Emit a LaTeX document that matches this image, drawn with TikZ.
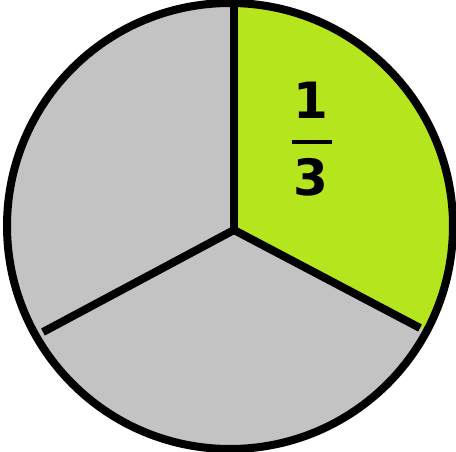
\documentclass[tikz,border=0pt]{standalone}
\usepackage{fontspec}
\newfontfamily\digitfont{DejaVu Sans}
\definecolor{pieGray}{RGB}{195,195,195}
\definecolor{pieGreen}{RGB}{181,230,29}
\begin{document}
\begin{tikzpicture}[x=1pt,y=-1pt,
  edge/.style={line width=8pt,black},
  digit/.style={font=\digitfont\bfseries\fontsize{50}{50}\selectfont,inner sep=0pt,text=black}]
\useasboundingbox (0,0) rectangle (456,452);
\coordinate (C) at (230,226);
\coordinate (J) at (234,230);
\coordinate (T) at (234,0);
\coordinate (R) at (420,328);
\coordinate (L) at (43,332);
\fill[pieGray] (C) circle (223);
\begin{scope}
  \clip (C) circle (223);
  \fill[pieGreen] (J) -- (234,-20) -- (480,-20) -- (480,359.6) -- cycle;
\end{scope}
\draw[edge] (J) -- (T);
\draw[edge] (J) -- (R);
\draw[edge] (J) -- (L);
\draw[edge] (C) circle (223);
\node[digit] (one) at (311,100) {1};
\node[digit] (three) at (311,177) {3};
\coordinate (barL) at (292,142);
\coordinate (barR) at (332,142);
\draw[line width=3.5pt] (barL) -- (barR);
\end{tikzpicture}
\end{document}
